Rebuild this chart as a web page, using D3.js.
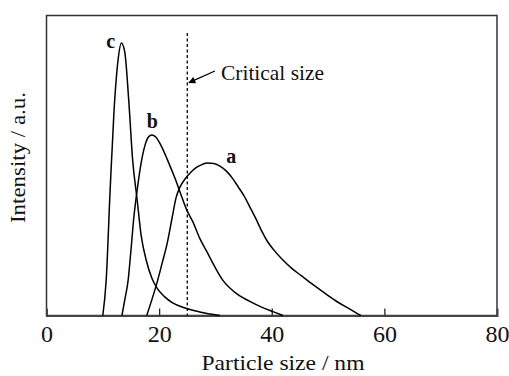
<!DOCTYPE html>
<html>
<head>
<meta charset="utf-8">
<script src="https://cdn.jsdelivr.net/npm/d3@7"></script>
<style>
  body { margin: 0; background: #fff; }
  svg { display: block; }
  svg text { font-family: "Liberation Serif", "Times New Roman", Times, serif; }
</style>
</head>
<body>
<svg id="chart"></svg>
<script>
// particle size (nm), intensity (a.u.)
const curveA = [
  [17.8, 0], [18.7, 5.2], [19.6, 10.8], [20.5, 17.2], [21.4, 23.8], [22.3, 32.5],
  [23.0, 39.2], [23.7, 42.8], [24.6, 45.5], [25.5, 47.5], [26.5, 49.2], [27.6, 50.3],
  [28.6, 50.8], [29.7, 50.7], [30.8, 49.8], [31.9, 48.2], [33.0, 45.8], [34.0, 43.0],
  [35.2, 39.5], [36.1, 36.2], [37.2, 32.2], [38.2, 28.2], [39.3, 24.5], [40.4, 21.8],
  [41.8, 18.8], [43.5, 15.8], [45.3, 13.2], [47.4, 10.2], [49.6, 7.2], [51.7, 4.5],
  [53.8, 2.2], [55.8, 0]
];
const curveB = [
  [13.4, 0], [13.9, 5.2], [14.5, 11.8], [15.0, 21.8], [15.5, 32.5], [16.1, 41.8],
  [16.8, 50.8], [17.5, 56.8], [18.1, 59.5], [18.7, 60.2], [19.4, 59.5], [20.3, 56.8],
  [21.5, 51.8], [22.8, 45.8], [23.9, 40.2], [24.9, 35.2], [26.0, 31.2], [27.2, 25.8],
  [28.5, 21.2], [29.9, 16.2], [31.3, 11.8], [33.4, 7.8], [36.1, 4.7], [38.2, 2.8],
  [40.2, 1.3], [42.0, 0]
];
const curveC = [
  [10.0, 0], [10.6, 11.8], [11.3, 41.8], [12.0, 68.5], [12.7, 85.0], [13.3, 90.8],
  [13.9, 87.8], [14.6, 71.8], [15.3, 51.8], [16.1, 38.5], [16.8, 26.8], [17.7, 18.5],
  [18.7, 12.5], [19.6, 9.2], [21.0, 6.2], [22.4, 4.2], [24.6, 2.5], [27.2, 1.2],
  [30.8, 0]
];
const curveLabels = ["a", "b", "c"];
const labelPos = [[32.8, 50.8], [18.8, 62.5], [11.4, 89.2]];
const xTicks = [0, 20, 40, 60, 80];
const criticalSize = 25;
const criticalText = "Critical size";
const arrowFrom = [29.9, 81.5];
const arrowTo = [25.3, 77.6];

const width = 509, height = 376;
const svg = d3.select("#chart").attr("width", width).attr("height", height);

const x = d3.scaleLinear().domain([0, 80]).range([46.5, 497]);
const y = d3.scaleLinear().domain([0, 100]).range([315.5, 15.5]);

// frame
svg.append("rect")
    .attr("x", x(0)).attr("y", y(100))
    .attr("width", x(80) - x(0)).attr("height", y(0) - y(100))
    .attr("fill", "none").attr("stroke", "#333").attr("stroke-width", 1.5);

// bottom axis, ticks point inward
const xAxis = d3.axisBottom(x).tickValues(xTicks).tickSize(-7).tickPadding(9)
    .tickFormat(d3.format("d"));
svg.append("g")
    .attr("transform", `translate(0,${y(0)})`)
    .call(xAxis)
    .attr("font-family", null).attr("font-size", null)
    .call(g => g.select(".domain").attr("stroke", "#444").attr("stroke-width", 2))
    .call(g => g.selectAll(".tick line").attr("stroke", "#222").attr("stroke-width", 1.3)
        .filter(d => d === 0 || d === 80).remove())
    .call(g => g.selectAll(".tick text")
        .style("font-size", "24px").attr("fill", "#111"));

// axis titles
svg.append("text")
    .attr("x", 283).attr("y", 370)
    .attr("text-anchor", "middle")
    .style("font-size", "22px")
    .attr("textLength", 163).attr("lengthAdjust", "spacingAndGlyphs")
    .attr("fill", "#111")
    .text("Particle size / nm");

svg.append("text")
    .attr("transform", "translate(25,157.5) rotate(-90)")
    .attr("text-anchor", "middle")
    .style("font-size", "21px")
    .attr("textLength", 131).attr("lengthAdjust", "spacingAndGlyphs")
    .attr("fill", "#111")
    .text("Intensity / a.u.");

// curves
const line = d3.line()
    .x(d => x(d[0]))
    .y(d => y(d[1]))
    .curve(d3.curveMonotoneX);

[curveA, curveB, curveC].forEach(c => {
  svg.append("path")
      .attr("d", line(c))
      .attr("fill", "none")
      .attr("stroke", "#000")
      .attr("stroke-width", 1.5);
});

svg.selectAll(".clabel")
  .data(curveLabels)
  .join("text")
    .attr("class", "clabel")
    .attr("x", (d, i) => x(labelPos[i][0]))
    .attr("y", (d, i) => y(labelPos[i][1]))
    .attr("text-anchor", "middle")
    .style("font-size", "20px")
    .attr("font-weight", "bold")
    .attr("fill", "#111")
    .text(d => d);

// critical size marker
svg.append("line")
    .attr("x1", x(criticalSize)).attr("x2", x(criticalSize))
    .attr("y1", y(94.2)).attr("y2", y(0))
    .attr("stroke", "#000").attr("stroke-width", 1.3)
    .attr("stroke-dasharray", "3,2.5");

svg.append("defs").append("marker")
    .attr("id", "arrow")
    .attr("viewBox", "0 0 10 10")
    .attr("refX", 9).attr("refY", 5)
    .attr("markerWidth", 9).attr("markerHeight", 7)
    .attr("markerUnits", "userSpaceOnUse")
    .attr("orient", "auto")
  .append("path")
    .attr("d", "M0,0L10,5L0,10z")
    .attr("fill", "#000");

svg.append("line")
    .attr("x1", x(arrowFrom[0])).attr("y1", y(arrowFrom[1]))
    .attr("x2", x(arrowTo[0])).attr("y2", y(arrowTo[1]))
    .attr("stroke", "#000").attr("stroke-width", 1.3)
    .attr("marker-end", "url(#arrow)");

svg.append("text")
    .attr("x", 221).attr("y", 80)
    .style("font-size", "21px")
    .attr("textLength", 103).attr("lengthAdjust", "spacingAndGlyphs")
    .attr("fill", "#111")
    .text(criticalText);
</script>
</body>
</html>
